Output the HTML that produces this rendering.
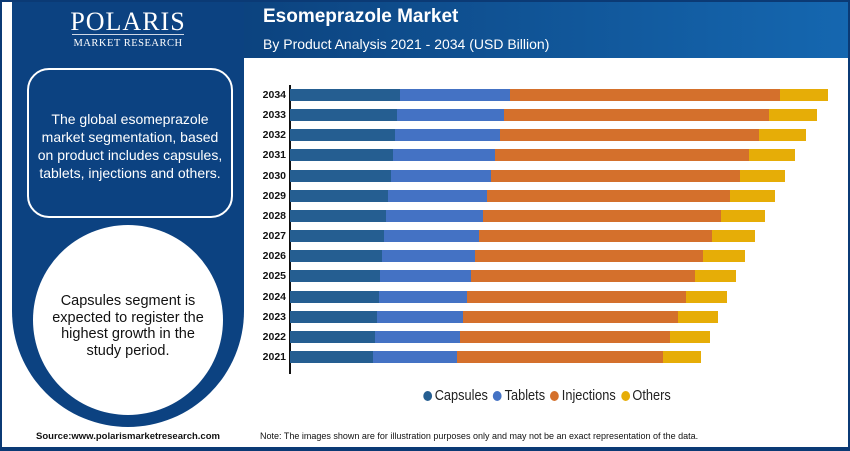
<!DOCTYPE html>
<html><head><meta charset="utf-8"><style>
body{margin:0;width:850px;height:451px;overflow:hidden;background:#0b3a75;font-family:"Liberation Sans",sans-serif;position:relative}
div{position:absolute;box-sizing:border-box}
.y{left:248px;width:38px;text-align:right;font-size:10.5px;font-weight:bold;color:#111}
.b{height:12px}
.dot{display:inline-block;width:10px;height:10px;border-radius:50%;vertical-align:-1px;margin:0 3px 0 6px}
</style></head><body>
<div style="left:2px;top:2px;width:846px;height:445px;background:#fff"></div>
<div style="left:12px;top:2px;width:232px;height:425px;background:#0c4281;border-radius:0 0 116px 116px"></div>
<div style="left:244px;top:2px;width:604px;height:56px;background:linear-gradient(90deg,#0c437f,#1567b0)"></div>
<div style="left:12px;top:7px;width:232px;text-align:center;color:#fff;font-family:'Liberation Serif',serif;font-size:26px;letter-spacing:1px">POLARIS</div>
<div style="left:72px;top:34px;width:112px;height:1px;background:#cfd8e6"></div>
<div style="left:12px;top:38px;width:232px;text-align:center;color:#fff;font-family:'Liberation Serif',serif;font-size:10.5px;letter-spacing:0.5px">MARKET RESEARCH</div>
<div style="left:27px;top:68px;width:206px;height:150px;border:2px solid #fff;border-radius:22px"></div>
<div style="left:33px;top:110px;width:194px;text-align:center;color:#fff;font-size:14px;line-height:18px">The global esomeprazole market segmentation, based on product includes capsules, tablets, injections and others.</div>
<div style="left:33px;top:225px;width:190px;height:190px;border-radius:50%;background:#fff"></div>
<div style="left:43px;top:293px;width:170px;text-align:center;color:#111;font-size:14.5px;line-height:16.5px">Capsules segment is expected to register the highest growth in the study period.</div>
<div style="left:0;top:431px;width:256px;text-align:center;font-size:9.5px;font-weight:bold;color:#111">Source:www.polarismarketresearch.com</div>
<div style="left:263px;top:6px;color:#fff;font-size:19px;font-weight:bold">Esomeprazole Market</div>
<div style="left:263px;top:36px;color:#fff;font-size:14px">By Product Analysis 2021 - 2034 (USD Billion)</div>
<div style="left:289px;top:85px;width:1.5px;height:289px;background:#111"></div>
<div id="bars"></div>
<div style="left:260px;top:431px;font-size:9px;color:#111">Note: The images shown are for illustration purposes only and may not be an exact representation of the data.</div>
<div style="left:418px;top:388px;font-size:14.5px;color:#222;white-space:nowrap;transform:scaleX(0.88);transform-origin:left">
<span class="dot" style="background:#255e91"></span>Capsules<span class="dot" style="background:#4472c4"></span>Tablets<span class="dot" style="background:#d4702c"></span>Injections<span class="dot" style="background:#e6ad07"></span>Others</div>
<script>
var d=[[2034,400,510,780,828],[2033,397,504,769,817],[2032,395,500,759,806],[2031,393,495,749,795],[2030,391,491,740,785],[2029,388,487,730,775],[2028,386,483,721,765],[2027,384,479,712,755],[2026,382,475,703,745],[2025,380,471,695,736],[2024,379,467,686,727],[2023,377,463,678,718],[2022,375,460,670,710],[2021,373,457,663,701]];
var c=['#255e91','#4472c4','#d4702c','#e6ad07'],h='';
d.forEach(function(r,i){var y=89+i*20.15;h+='<div class="y" style="top:'+(y)+'px">'+r[0]+'</div>';var x=290;for(var k=0;k<4;k++){h+='<div class="b" style="top:'+y+'px;left:'+x+'px;width:'+(r[k+1]-x)+'px;background:'+c[k]+'"></div>';x=r[k+1];}});
document.getElementById('bars').outerHTML=h;
</script>
</body></html>
